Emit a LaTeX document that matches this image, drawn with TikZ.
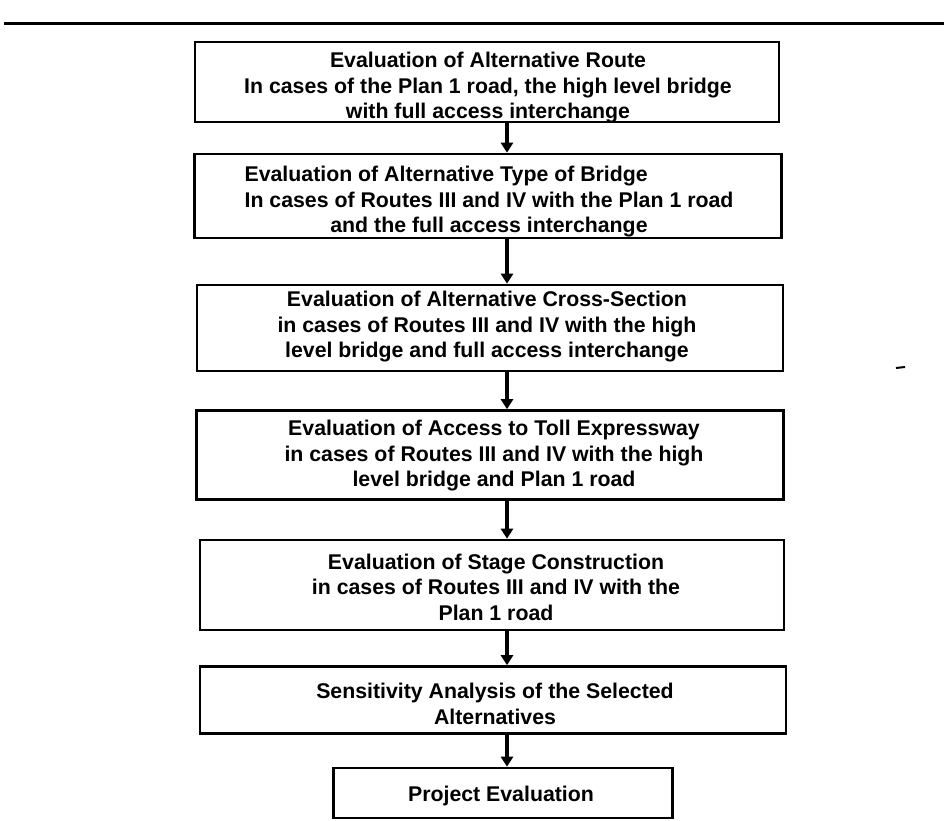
\documentclass[tikz,border=0pt]{standalone}
\usepackage{fontspec}
\setmainfont{Liberation Sans}
\usetikzlibrary{arrows.meta}
\begin{document}
\begin{tikzpicture}[x=1pt,y=-1pt,
  stepbox/.style={draw=black, line width=2.6pt, rectangle, inner sep=0pt},
  steptext/.style={align=center, inner sep=0pt,
    font=\fontsize{21.3}{25.5}\selectfont\bfseries},
  flow/.style={line width=3.8pt, -{Triangle[length=10pt,width=12pt]}}]
\useasboundingbox (0,0) rectangle (945,821);

% rule running across the head of the page
\draw[line width=3pt, black] (4,24) -- (944,24);

% evaluation steps: frames
\node[stepbox, minimum width=584pt, minimum height=80pt] (b1) at (487,82) {};
\node[stepbox, minimum width=587pt, minimum height=84pt] (b2) at (488,196) {};
\node[stepbox, minimum width=586pt, minimum height=86pt] (b3) at (490,328) {};
\node[stepbox, minimum width=587pt, minimum height=89pt] (b4) at (490,455) {};
\node[stepbox, minimum width=584pt, minimum height=90pt] (b5) at (492,585) {};
\node[stepbox, minimum width=586pt, minimum height=67pt] (b6) at (493,700) {};
\node[stepbox, minimum width=339pt, minimum height=50pt] (b7) at (503,793) {};

% evaluation steps: wording
\node[steptext] (t1) at (488,88)
  {Evaluation of Alternative Route\\
   In cases of the Plan 1 road, the high level bridge\\
   with full access interchange};
\node[steptext] (t2) at (489,202)
  {\rlap{Evaluation of Alternative Type of Bridge}\hphantom{In cases of Routes III and IV with the Plan 1 road}\\
   In cases of Routes III and IV with the Plan 1 road\\
   and the full access interchange};
\node[steptext] (t3) at (487,327)
  {Evaluation of Alternative Cross-Section\\
   in cases of Routes III and IV with the high\\
   level bridge and full access interchange};
\node[steptext] (t4) at (494,456)
  {Evaluation of Access to Toll Expressway\\
   in cases of Routes III and IV with the high\\
   level bridge and Plan 1 road};
\node[steptext] (t5) at (496,587)
  {Evaluation of Stage Construction\\
   in cases of Routes III and IV with the\\
   Plan 1 road};
\node[steptext] (t6) at (495,704)
  {Sensitivity Analysis of the Selected\\
   Alternatives};
\node[steptext] (t7) at (501,796) {Project Evaluation};

% connectors down the common spine
\coordinate (spine) at (507,0);
\draw[flow] (b1.south -| spine) -- (b2.north -| spine);
\draw[flow] (b2.south -| spine) -- (b3.north -| spine);
\draw[flow] (b3.south -| spine) -- (b4.north -| spine);
\draw[flow] (b4.south -| spine) -- (b5.north -| spine);
\draw[flow] (b5.south -| spine) -- (b6.north -| spine);
\draw[flow] (b6.south -| spine) -- (b7.north -| spine);

% stray mark on the right margin
\draw[line width=2pt] (896,368) -- (905,367);
\end{tikzpicture}
\end{document}
